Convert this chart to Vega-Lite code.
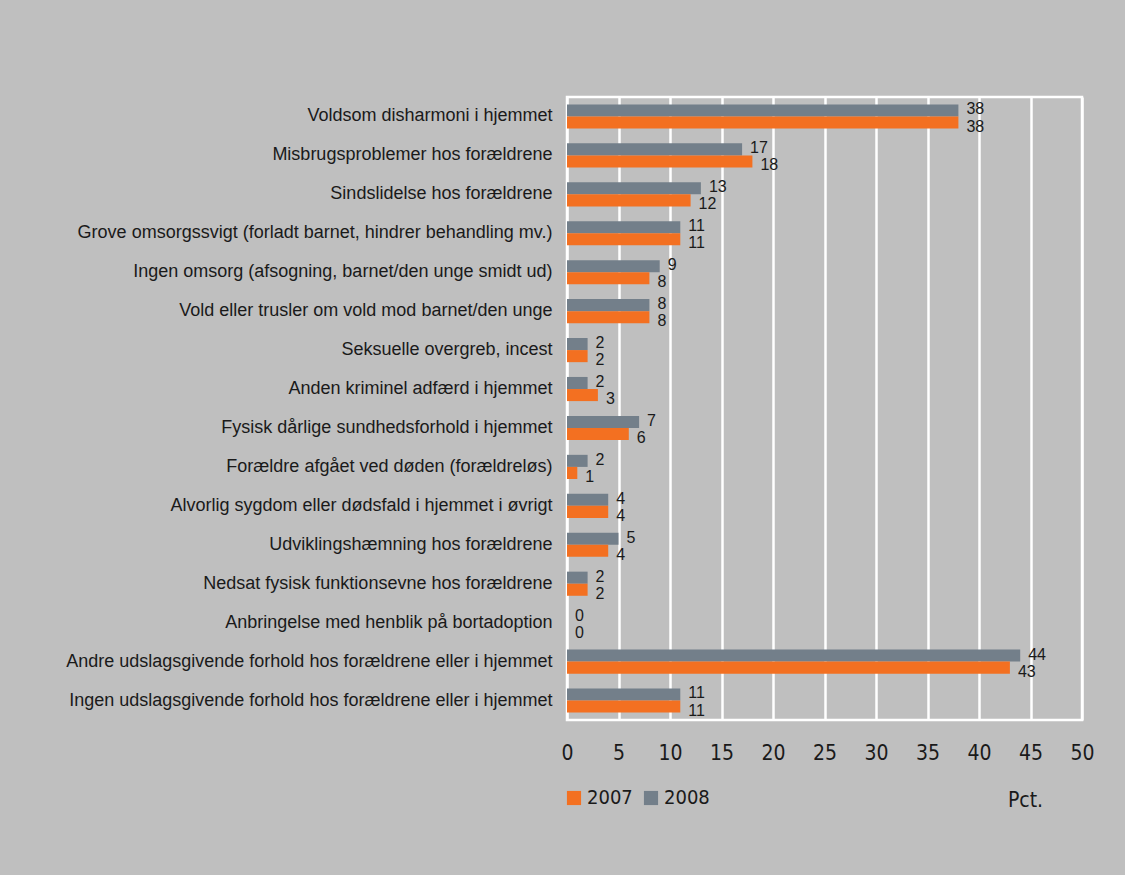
{
  "$schema": "https://vega.github.io/schema/vega-lite/v6.json",
  "autosize": {"type": "none"},
  "padding": {"left": 567, "top": 97, "right": 43, "bottom": 155},
  "width": 515,
  "height": 623,
  "background": "#bfbfbf",
  "config": {
    "view": {"stroke": "#ffffff", "strokeWidth": 2.5, "fill": "#bfbfbf"},
    "text": {"font": "Liberation Sans"}
  },
  "data": {
    "values": [
      {"cat": "Voldsom disharmoni i hjemmet", "year": "2008", "pct": 38},
      {"cat": "Voldsom disharmoni i hjemmet", "year": "2007", "pct": 38},
      {"cat": "Misbrugsproblemer hos forældrene", "year": "2008", "pct": 17},
      {"cat": "Misbrugsproblemer hos forældrene", "year": "2007", "pct": 18},
      {"cat": "Sindslidelse hos forældrene", "year": "2008", "pct": 13},
      {"cat": "Sindslidelse hos forældrene", "year": "2007", "pct": 12},
      {"cat": "Grove omsorgssvigt (forladt barnet, hindrer behandling mv.)", "year": "2008", "pct": 11},
      {"cat": "Grove omsorgssvigt (forladt barnet, hindrer behandling mv.)", "year": "2007", "pct": 11},
      {"cat": "Ingen omsorg (afsogning, barnet/den unge smidt ud)", "year": "2008", "pct": 9},
      {"cat": "Ingen omsorg (afsogning, barnet/den unge smidt ud)", "year": "2007", "pct": 8},
      {"cat": "Vold eller trusler om vold mod barnet/den unge", "year": "2008", "pct": 8},
      {"cat": "Vold eller trusler om vold mod barnet/den unge", "year": "2007", "pct": 8},
      {"cat": "Seksuelle overgreb, incest", "year": "2008", "pct": 2},
      {"cat": "Seksuelle overgreb, incest", "year": "2007", "pct": 2},
      {"cat": "Anden kriminel adfærd i hjemmet", "year": "2008", "pct": 2},
      {"cat": "Anden kriminel adfærd i hjemmet", "year": "2007", "pct": 3},
      {"cat": "Fysisk dårlige sundhedsforhold i hjemmet", "year": "2008", "pct": 7},
      {"cat": "Fysisk dårlige sundhedsforhold i hjemmet", "year": "2007", "pct": 6},
      {"cat": "Forældre afgået ved døden (forældreløs)", "year": "2008", "pct": 2},
      {"cat": "Forældre afgået ved døden (forældreløs)", "year": "2007", "pct": 1},
      {"cat": "Alvorlig sygdom eller dødsfald i hjemmet i øvrigt", "year": "2008", "pct": 4},
      {"cat": "Alvorlig sygdom eller dødsfald i hjemmet i øvrigt", "year": "2007", "pct": 4},
      {"cat": "Udviklingshæmning hos forældrene", "year": "2008", "pct": 5},
      {"cat": "Udviklingshæmning hos forældrene", "year": "2007", "pct": 4},
      {"cat": "Nedsat fysisk funktionsevne hos forældrene", "year": "2008", "pct": 2},
      {"cat": "Nedsat fysisk funktionsevne hos forældrene", "year": "2007", "pct": 2},
      {"cat": "Anbringelse med henblik på bortadoption", "year": "2008", "pct": 0},
      {"cat": "Anbringelse med henblik på bortadoption", "year": "2007", "pct": 0},
      {"cat": "Andre udslagsgivende forhold hos forældrene eller i hjemmet", "year": "2008", "pct": 44},
      {"cat": "Andre udslagsgivende forhold hos forældrene eller i hjemmet", "year": "2007", "pct": 43},
      {"cat": "Ingen udslagsgivende forhold hos forældrene eller i hjemmet", "year": "2008", "pct": 11},
      {"cat": "Ingen udslagsgivende forhold hos forældrene eller i hjemmet", "year": "2007", "pct": 11}
    ]
  },
  "encoding": {
    "y": {
      "field": "cat", "type": "nominal", "sort": null,
      "scale": {"paddingInner": 0.38, "paddingOuter": 0.19},
      "axis": {
        "title": null, "domain": false, "ticks": false, "labelPadding": 15,
        "labelFont": "Liberation Sans", "labelFontSize": 18, "labelColor": "#1a1a1a",
        "labelLimit": 600
      }
    },
    "yOffset": {"field": "year", "type": "nominal", "scale": {"domain": ["2008", "2007"], "paddingInner": 0}},
    "x": {
      "field": "pct", "type": "quantitative",
      "scale": {"domain": [0, 50], "nice": false},
      "axis": {
        "values": [0, 5, 10, 15, 20, 25, 30, 35, 40, 45, 50],
        "grid": true, "gridColor": "#ffffff", "gridWidth": 2.5, "gridOpacity": 1,
        "domain": false, "ticks": false, "labelPadding": 22, "labelFlush": false,
        "labelFont": "Liberation Sans Narrow, DejaVu Sans Condensed, sans-serif",
        "labelFontSize": 21, "labelColor": "#1a1a1a",
        "title": "Pct.", "titleX": 458, "titleY": 80, "titleAlign": "center", "titleBaseline": "middle",
        "titleFont": "Liberation Sans Narrow, DejaVu Sans Condensed, sans-serif",
        "titleFontSize": 21, "titleFontWeight": "normal", "titleColor": "#1a1a1a"
      }
    }
  },
  "layer": [
    {
      "mark": {"type": "bar"},
      "encoding": {
        "color": {
          "field": "year", "type": "nominal",
          "scale": {"domain": ["2007", "2008"], "range": ["#f37021", "#737f8a"]},
          "legend": {
            "title": null, "orient": "none", "direction": "horizontal",
            "legendX": -3, "legendY": 691,
            "symbolType": "square", "symbolSize": 200, "symbolStrokeWidth": 0, "symbolOpacity": 1,
            "labelFont": "Liberation Sans Narrow, DejaVu Sans Condensed, sans-serif",
            "labelFontSize": 20, "labelColor": "#1a1a1a", "columnPadding": 8, "labelOffset": 3
          }
        }
      }
    },
    {
      "transform": [{"filter": "datum.year === '2008'"}],
      "mark": {"type": "text", "align": "left", "baseline": "middle", "dx": 8, "dy": -1, "fontSize": 16, "color": "#1a1a1a"},
      "encoding": {"text": {"field": "pct", "type": "quantitative"}}
    },
    {
      "transform": [{"filter": "datum.year === '2007'"}],
      "mark": {"type": "text", "align": "left", "baseline": "middle", "dx": 8, "dy": 4, "fontSize": 16, "color": "#1a1a1a"},
      "encoding": {"text": {"field": "pct", "type": "quantitative"}}
    }
  ]
}
